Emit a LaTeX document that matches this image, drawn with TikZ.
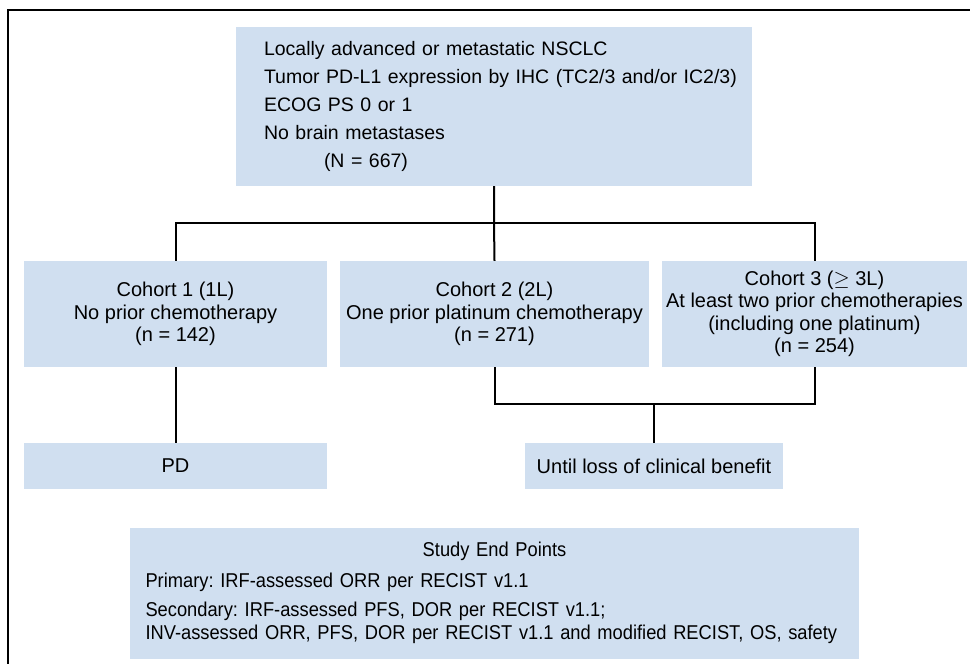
\documentclass[tikz,border=0pt]{standalone}
\usepackage{fontspec}
\setmainfont{Liberation Sans}
\newfontfamily\condfont{Liberation Sans}[FakeStretch=0.915]
\usepackage{tikz}
\usetikzlibrary{positioning,calc}
\definecolor{boxblue}{RGB}{208,223,240}

\begin{document}
\frenchspacing
\begin{tikzpicture}[x=1pt, y=-1pt, every node/.style={font=\fontsize{20}{22.5}\selectfont}]
\tikzset{box/.style={fill=boxblue, align=center, inner sep=0pt}}
\tikzset{cohort/.style={box, minimum height=106pt}}
\tikzset{link/.style={line width=2pt, black}}
\useasboundingbox (0,0) rectangle (970,664);
\draw[line width=1.3pt] (8,664) -- (8,10) -- (970,10);
% eligibility
\node[box, align=left, text width=460pt, inner xsep=28pt, minimum height=159pt,
  font=\fontsize{19.5}{28}\selectfont] (elig) at (494,106.5)
  {Locally advanced or metastatic NSCLC\\
   \mbox{Tumor PD-L1 expression by IHC (TC2/3 and/or IC2/3)}\\
   ECOG PS 0 or 1\\
   No brain metastases\\
   \hspace*{60pt}(N = 667)};
% cohorts
\node[cohort, minimum width=303pt] (c1) at (175.5,314) {Cohort 1 (1L)\\No prior chemotherapy\\(n = 142)};
\node[cohort, minimum width=309pt] (c2) at (494.5,314) {Cohort 2 (2L)\\One prior platinum chemotherapy\\(n = 271)};
\node[cohort, minimum width=305pt] (c3) at (814.5,314) {Cohort 3 ($\geq$ 3L)\\At least two prior chemotherapies\\(including one platinum)\\(n = 254)};
% treatment duration
\node[box, minimum width=303pt, minimum height=46pt] (pd) at (175.5,466) {PD};
\node[box, minimum width=258pt, minimum height=46pt] (until) at (654,466) {Until loss of clinical benefit};
% end points
\node[box, align=left, text width=698pt, inner xsep=15.5pt, minimum height=131pt,
  font=\condfont\fontsize{20}{23}\selectfont] (ends) at (494.5,593)
  {\makebox[\linewidth][c]{Study End Points}\\[8pt]
   Primary: IRF-assessed ORR per RECIST v1.1\\[6pt]
   Secondary: IRF-assessed PFS, DOR per RECIST v1.1;\\
   INV-assessed ORR, PFS, DOR per RECIST v1.1 and modified RECIST, OS, safety};
\coordinate (split) at (494,223);
\coordinate (join) at (654,404);
\draw[link] (elig.south) -- (split) -- (c2.north);
\draw[link] (c1.north) -- (c1.north |- split) -- (c3.north |- split) -- (c3.north);
\draw[link] (c1.south) -- (pd.north);
\draw[link] (c2.south) -- (c2.south |- join) -- (c3.south |- join) -- (c3.south);
\draw[link] (join) -- (until.north);
\end{tikzpicture}
\end{document}
